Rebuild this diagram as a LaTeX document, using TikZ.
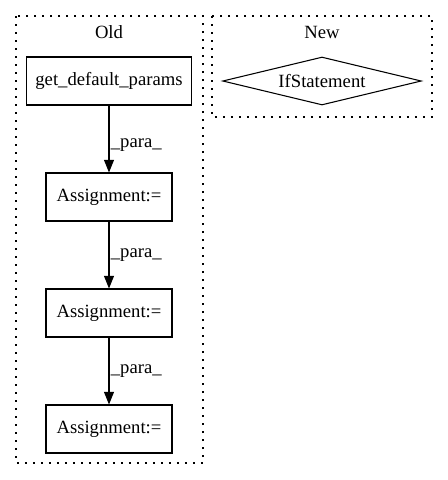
\documentclass[tikz,border=0pt]{standalone}
\usepackage{fontspec}
\setmainfont{Liberation Serif}
\usetikzlibrary{shapes.geometric,arrows.meta}

\begin{document}
\begin{tikzpicture}[x=0.75pt,y=-0.75pt,
    every node/.style={font=\fontsize{14}{16}\selectfont},
    box/.style={draw,line width=0.8pt,minimum height=36pt,inner sep=0pt},
    cond/.style={draw,diamond,line width=0.8pt,aspect=4,minimum width=149pt,minimum height=36pt,inner sep=0pt},
    cluster/.style={line width=0.8pt,dash pattern=on 1.2pt off 4.8pt},
    flow/.style={line width=0.8pt,-{Triangle[length=9.5pt,width=7.5pt]}},
    lbl/.style={right,inner sep=1pt}]
    \useasboundingbox (0,0) rectangle (448,480);
    % clusters
    \draw[cluster] (16,16) rectangle (203,463);
    \draw[cluster] (212,16) rectangle (432,117);
    \node (old) at (109,32) {Old};
    \node (new) at (322,32) {New};
    % nodes
    \node[box,minimum width=124pt] (gdp) at (109,81) {get\_default\_params};
    \node[cond] (ifs) at (322,81) {IfStatement};
    \node[box,minimum width=94.5pt] (asg1) at (109,197) {Assignment:=};
    \node[box,minimum width=94.5pt] (asg2) at (109,313) {Assignment:=};
    \node[box,minimum width=94.5pt] (asg3) at (109,429) {Assignment:=};
    % edges
    \draw[flow] (gdp) -- (asg1) node[lbl,pos=0.59] {\_para\_};
    \draw[flow] (asg1) -- (asg2) node[lbl,pos=0.5] {\_para\_};
    \draw[flow] (asg2) -- (asg3) node[lbl,pos=0.5] {\_para\_};
\end{tikzpicture}
\end{document}
